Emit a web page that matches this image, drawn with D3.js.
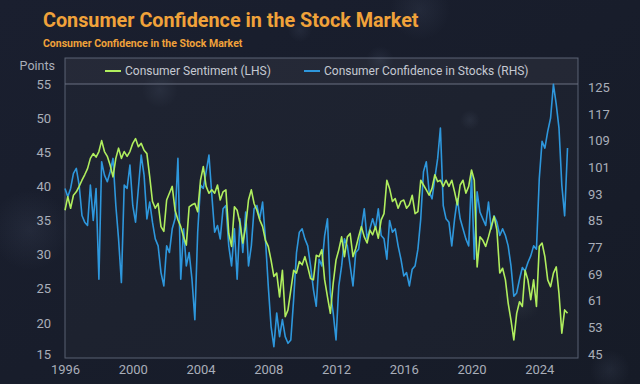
<!DOCTYPE html>
<html>
<head>
<meta charset="utf-8">
<script src="https://cdn.jsdelivr.net/npm/d3@7"></script>
<style>
  html, body { margin: 0; padding: 0; background: #181d2b; }
  svg { display: block; }
</style>
</head>
<body>
<svg id="chart" width="640" height="384"></svg>
<script>
// bimonthly readings, Jan 1996 onwards
var startYear = 1996;
var stepMonths = 2;

// Consumer Sentiment (LHS, points)
var sentiment = [
  36.5, 38.5, 36.8, 38.7, 39.2, 40.0, 40.9, 41.7, 42.6, 44.1, 44.8, 44.3,
  45.1, 46.7, 45.1, 44.4, 43.1, 41.4, 44.1, 45.6, 44.1, 45.1, 44.4, 45.1,
  46.3, 47.0, 45.8, 46.3, 45.3, 44.8, 41.4, 37.8, 36.8, 37.5, 34.1, 33.4,
  38.0, 39.0, 40.0, 36.5, 35.1, 34.1, 32.6, 31.4, 37.0, 37.3, 37.5, 36.3,
  40.9, 42.9, 40.0, 39.0, 39.5, 39.0, 40.2, 38.0, 39.2, 39.5, 33.1, 31.2,
  37.0, 36.5, 34.6, 31.7, 34.1, 38.0, 39.5, 37.5, 36.5, 35.1, 34.1, 32.1,
  31.2, 29.2, 26.8, 27.3, 23.8, 27.7, 20.9, 21.9, 24.8, 27.7, 27.3, 29.0,
  28.5, 29.7, 28.2, 26.5, 26.3, 29.9, 29.7, 30.7, 26.3, 23.8, 21.4, 25.8,
  29.2, 30.7, 32.6, 29.7, 32.6, 33.1, 29.7, 30.9, 32.6, 34.1, 32.6, 31.7,
  33.6, 32.9, 34.1, 32.4, 35.1, 36.0, 40.9, 39.7, 37.8, 38.2, 36.8, 37.8,
  38.0, 36.8, 37.3, 38.7, 36.0, 36.3, 40.9, 40.2, 39.5, 38.7, 39.7, 41.7,
  40.7, 40.9, 40.0, 40.9, 40.0, 40.9, 39.2, 37.3, 40.2, 40.9, 39.0, 40.0,
  42.4, 40.9, 28.2, 32.6, 32.1, 31.2, 32.6, 34.1, 35.6, 33.6, 27.3, 28.0,
  26.3, 22.9, 20.4, 17.5, 21.4, 23.1, 22.4, 27.7, 26.3, 23.4, 26.3, 22.4,
  31.2, 31.7, 29.7, 26.3, 25.3, 27.3, 28.2, 24.3, 18.5, 21.9, 21.4
];

// Consumer Confidence in Stocks (RHS)
var stocks = [
  95.5, 93.0, 95.5, 100.0, 101.5, 96.5, 87.4, 85.4, 84.4, 96.5, 85.9, 95.5,
  68.3, 103.5, 99.5, 97.5, 100.5, 104.5, 90.4, 80.4, 67.3, 96.5, 95.5, 102.5,
  90.4, 85.4, 95.5, 105.5, 99.5, 86.4, 91.4, 85.4, 80.4, 78.3, 70.3, 66.3,
  78.3, 76.3, 83.4, 86.4, 104.5, 68.3, 83.4, 72.3, 76.3, 68.3, 56.2, 82.4,
  96.5, 95.5, 100.5, 105.5, 93.5, 82.4, 84.4, 80.4, 89.4, 90.4, 78.3, 72.3,
  83.4, 68.3, 86.4, 76.3, 88.4, 72.3, 78.3, 89.4, 90.4, 86.4, 91.4, 80.4,
  66.3, 54.2, 48.1, 58.2, 51.1, 56.2, 51.1, 49.1, 50.1, 62.2, 76.3, 82.4,
  83.4, 80.4, 78.3, 72.3, 65.2, 60.2, 74.3, 72.3, 81.4, 86.4, 64.2, 58.2,
  50.1, 66.3, 72.3, 80.4, 78.3, 72.3, 66.3, 76.3, 77.3, 83.4, 89.4, 80.4,
  83.4, 86.4, 83.4, 89.4, 81.4, 80.4, 74.3, 85.9, 82.4, 83.4, 78.3, 74.3,
  69.3, 70.3, 66.3, 71.3, 72.3, 77.3, 86.4, 100.5, 103.5, 94.5, 92.4, 98.5,
  104.5, 113.6, 90.4, 86.4, 85.4, 78.3, 86.4, 92.4, 86.4, 83.4, 80.4, 78.3,
  99.5, 74.3, 94.5, 88.4, 86.4, 84.4, 91.4, 83.4, 87.3, 85.4, 81.4, 83.4,
  81.4, 78.3, 72.3, 63.2, 64.2, 68.3, 71.8, 70.8, 73.3, 75.3, 78.3, 77.3,
  98.5, 109.6, 107.6, 112.6, 116.6, 126.7, 120.7, 113.6, 96.5, 87.3, 107.6
];

var leftTicks = [15, 20, 25, 30, 35, 40, 45, 50, 55];
var rightTicks = [45, 53, 61, 69, 77, 85, 93, 101, 109, 117, 125];

var titleText = "Consumer Confidence in the Stock Market";
var subtitleText = "Consumer Confidence in the Stock Market";
var seriesNames = ["Consumer Sentiment (LHS)", "Consumer Confidence in Stocks (RHS)"];

var green = "#b0ee5e",
    blue = "#2e97dc",
    orange = "#f0a23a",
    axisText = "#a9aeb9";

var svg = d3.select("#chart");

// background with soft bokeh
var defs = svg.append("defs");
var glow = defs.append("radialGradient").attr("id", "glow");
glow.append("stop").attr("offset", "0%").attr("stop-color", "#8090b0").attr("stop-opacity", 0.1);
glow.append("stop").attr("offset", "100%").attr("stop-color", "#8090b0").attr("stop-opacity", 0);

var bg = defs.append("linearGradient").attr("id", "bg")
  .attr("x1", 0).attr("y1", 0).attr("x2", 1).attr("y2", 1);
bg.append("stop").attr("offset", "0%").attr("stop-color", "#1a1f2f");
bg.append("stop").attr("offset", "100%").attr("stop-color", "#161b27");

svg.append("rect").attr("width", 640).attr("height", 384).attr("fill", "url(#bg)");

[[420, 10, 30], [380, 60, 14], [520, 300, 22], [160, 90, 18], [610, 370, 20], [30, 230, 40], [470, 120, 10], [300, 30, 12]]
  .forEach(function(b) {
    svg.append("circle").attr("cx", b[0]).attr("cy", b[1]).attr("r", b[2]).attr("fill", "url(#glow)");
  });

// layout
var plotLeft = 65, plotRight = 578, boxTop = 58, plotTop = 84, plotBottom = 357;

var dates = sentiment.map(function(d, i) { return new Date(startYear, i * stepMonths, 1); });

var x = d3.scaleTime()
  .domain([new Date(1996, 0, 1), new Date(2026, 3, 15)])
  .range([plotLeft, plotRight]);

var yLeft = d3.scaleLinear().domain([15, 55]).range([plotBottom, plotTop]);
var yRight = d3.scaleLinear().domain([45, 125]).range([plotBottom, 90]);

// plot frame
svg.append("rect")
  .attr("x", plotLeft).attr("y", boxTop)
  .attr("width", plotRight - plotLeft).attr("height", plotBottom + 1 - boxTop)
  .attr("fill", "#ffffff").attr("fill-opacity", 0.025)
  .attr("stroke", "#596072").attr("stroke-width", 1);

svg.append("rect")
  .attr("x", plotLeft).attr("y", boxTop)
  .attr("width", plotRight - plotLeft).attr("height", plotTop - boxTop)
  .attr("fill", "#ffffff").attr("fill-opacity", 0.03);

svg.append("line")
  .attr("x1", plotLeft).attr("x2", plotRight)
  .attr("y1", plotTop).attr("y2", plotTop)
  .attr("stroke", "#6a7182").attr("stroke-width", 1);

// titles
var fontFam = "Roboto, 'Liberation Sans', sans-serif";

svg.append("text")
  .attr("x", 43).attr("y", 27)
  .attr("font-family", fontFam)
  .attr("font-weight", "bold").attr("font-size", 19.8)
  .attr("fill", orange)
  .text(titleText);

svg.append("text")
  .attr("x", 43).attr("y", 47)
  .attr("font-family", fontFam)
  .attr("font-weight", "bold").attr("font-size", 10.5)
  .attr("fill", orange)
  .text(subtitleText);

// axes
var gl = svg.append("g")
  .attr("transform", "translate(" + (plotLeft - 14) + ",0)")
  .call(d3.axisLeft(yLeft).tickValues(leftTicks).tickSize(0).tickPadding(0));

var gr = svg.append("g")
  .attr("transform", "translate(" + (plotRight + 10) + ",0)")
  .call(d3.axisRight(yRight).tickValues(rightTicks).tickSize(0).tickPadding(0));

var gx = svg.append("g")
  .attr("transform", "translate(0," + (plotBottom + 5) + ")")
  .call(d3.axisBottom(x).ticks(d3.timeYear.every(4)).tickFormat(d3.timeFormat("%Y")).tickSize(0).tickPadding(0));

[gl, gr, gx].forEach(function(g) {
  g.select(".domain").remove();
  g.selectAll("text")
    .attr("fill", axisText)
    .attr("font-family", fontFam)
    .attr("font-size", 13);
});
gl.selectAll("text").attr("dy", "0.32em");
gr.selectAll("text").attr("dy", "0.1em");
gx.selectAll("text").attr("dy", "0.95em");
gl.selectAll(".tick").filter(function(d) { return d === 15; }).select("text").attr("dy", "0.15em");

svg.append("text")
  .attr("x", 55).attr("y", 70)
  .attr("text-anchor", "end")
  .attr("font-family", fontFam).attr("font-size", 12.5)
  .attr("fill", axisText)
  .text("Points");

// lines
var lineBlue = d3.line()
  .x(function(d, i) { return x(dates[i]); })
  .y(function(d) { return yRight(d); });

var lineGreen = d3.line()
  .x(function(d, i) { return x(dates[i]); })
  .y(function(d) { return yLeft(d); });

svg.append("path")
  .datum(stocks)
  .attr("d", lineBlue)
  .attr("fill", "none")
  .attr("stroke", blue)
  .attr("stroke-width", 1.6)
  .attr("stroke-linejoin", "round");

svg.append("path")
  .datum(sentiment)
  .attr("d", lineGreen)
  .attr("fill", "none")
  .attr("stroke", green)
  .attr("stroke-width", 1.6)
  .attr("stroke-linejoin", "round");

// legend
var legend = [
  { name: seriesNames[0], color: green, x: 105 },
  { name: seriesNames[1], color: blue, x: 304 }
];

var lg = svg.append("g").selectAll("g").data(legend).join("g")
  .attr("transform", function(d) { return "translate(" + d.x + ",71)"; });

lg.append("line")
  .attr("x1", 0).attr("x2", 16)
  .attr("stroke", function(d) { return d.color; })
  .attr("stroke-width", 2);

lg.append("text")
  .attr("x", 20).attr("dy", "0.35em")
  .attr("font-family", fontFam).attr("font-size", 12)
  .attr("fill", "#c5c9d2")
  .text(function(d) { return d.name; });
</script>
</body>
</html>
